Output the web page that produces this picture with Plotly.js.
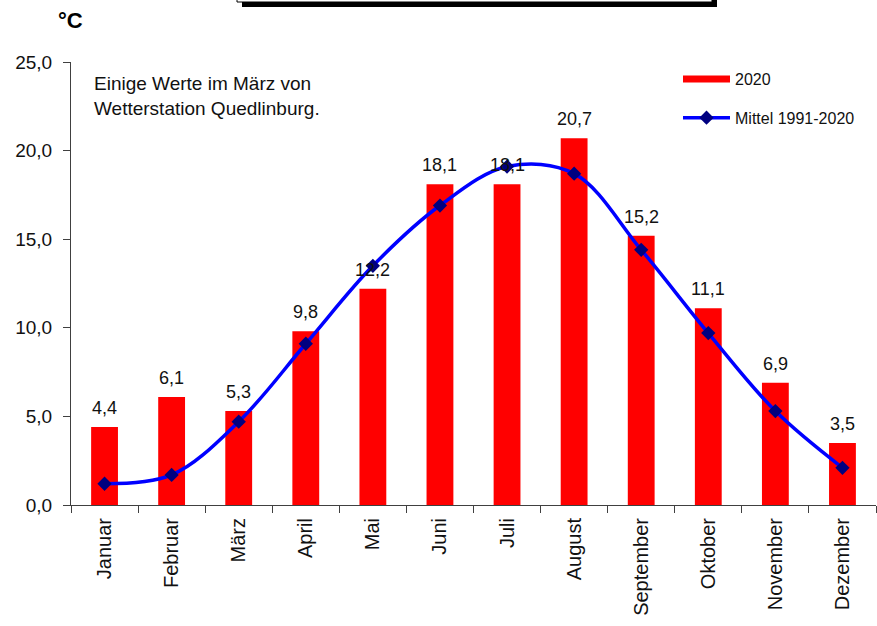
<!DOCTYPE html>
<html>
<head>
<meta charset="utf-8">
<script src="https://cdn.plot.ly/plotly-3.0.1.min.js"></script>
<style>
html,body{margin:0;padding:0;background:#fff;}
#chart{width:877px;height:626px;}
</style>
</head>
<body>
<div id="chart"></div>
<script>
const months = ["Januar","Februar","März","April","Mai","Juni","Juli","August","September","Oktober","November","Dezember"];
const values2020 = [4.4, 6.1, 5.3, 9.8, 12.2, 18.1, 18.1, 20.7, 15.2, 11.1, 6.9, 3.5];
const mean1991_2020 = [1.2, 1.7, 4.7, 9.1, 13.5, 16.9, 19.1, 18.7, 14.4, 9.7, 5.3, 2.1];
const yTickVals = [0, 5, 10, 15, 20, 25];

const FONT = "Liberation Sans, Arial, sans-serif";

// plot area in pixels: x 71..876, y 62..505
const L = 71, R = 876, T = 62, B = 505;
const px = x => (x - L) / (R - L);
const py = y => (B - y) / (B - T);

const traces = [
  {
    type: "bar", x: months, y: values2020, name: "2020",
    marker: {color: "#FF0000"}, width: 0.4, showlegend: false,
    hoverinfo: "x+y"
  },
  {
    type: "scatter", mode: "lines", x: [null], y: [null], name: "2020",
    line: {color: "#FF0000", width: 7}, legendgroup: "a", showlegend: true
  },
  {
    type: "scatter", mode: "lines+markers", x: months, y: mean1991_2020,
    name: "Mittel 1991-2020", legendgroup: "b",
    line: {color: "#0000FF", width: 3.5, shape: "spline", smoothing: 1},
    marker: {symbol: "diamond", size: 11, color: "#000080"}
  }
];

const annotations = values2020.map((v, i) => ({
  x: months[i], y: v, xref: "x", yref: "y",
  text: v.toFixed(1).replace(".", ","),
  showarrow: false, yshift: 19,
  font: {family: FONT, size: 18, color: "#111"}
}));
annotations.push({
  xref: "paper", yref: "paper", x: px(56), y: py(20),
  xanchor: "left", yanchor: "middle", showarrow: false,
  text: "<b>°C</b>", font: {family: FONT, size: 22, color: "#000"}
});
annotations.push({
  xref: "paper", yref: "paper", x: px(92), y: py(71),
  xanchor: "left", yanchor: "top", align: "left", showarrow: false,
  text: "Einige Werte im März von<br>Wetterstation Quedlinburg.",
  font: {family: FONT, size: 19, color: "#111"}
});

const layout = {
  width: 877, height: 626,
  margin: {l: L, r: 877 - R, t: T, b: 626 - B, pad: 0},
  paper_bgcolor: "#fff", plot_bgcolor: "#fff",
  separators: ",.",
  font: {family: FONT, color: "#111"},
  showlegend: true,
  legend: {
    x: px(678), y: py(62), xanchor: "left", yanchor: "top",
    bgcolor: "rgba(0,0,0,0)", font: {family: FONT, size: 16, color: "#111"},
    itemwidth: 47, traceorder: "grouped", tracegroupgap: 15
  },
  xaxis: {
    type: "category", range: [-0.5, 11.5], tickson: "boundaries", ticks: "outside", ticklen: 7,
    tickcolor: "#404040", showline: true, linecolor: "#404040", linewidth: 1,
    tickangle: -90, tickfont: {family: FONT, size: 20, color: "#111"},
    showgrid: false, zeroline: false, fixedrange: true, ticklabelstandoff: 4
  },
  yaxis: {
    range: [0, 25], tickvals: yTickVals, tickformat: ".1f", ticks: "outside", ticklen: 7,
    tickcolor: "#404040", showline: true, linecolor: "#404040", linewidth: 1,
    tickfont: {family: FONT, size: 19, color: "#111"},
    showgrid: false, zeroline: false, fixedrange: true, ticklabelstandoff: 7
  },
  annotations: annotations,
  shapes: [
    {type: "rect", xref: "paper", yref: "paper", x0: px(242), x1: px(717), y0: py(7), y1: py(-10),
     fillcolor: "#000", line: {width: 0}},
    {type: "rect", xref: "paper", yref: "paper", x0: px(237), x1: px(712), y0: py(2), y1: py(-15),
     fillcolor: "#fff", line: {color: "#000", width: 1}}
  ]
};

Plotly.newPlot("chart", traces, layout, {displayModeBar: false, staticPlot: true});
</script>
</body>
</html>
